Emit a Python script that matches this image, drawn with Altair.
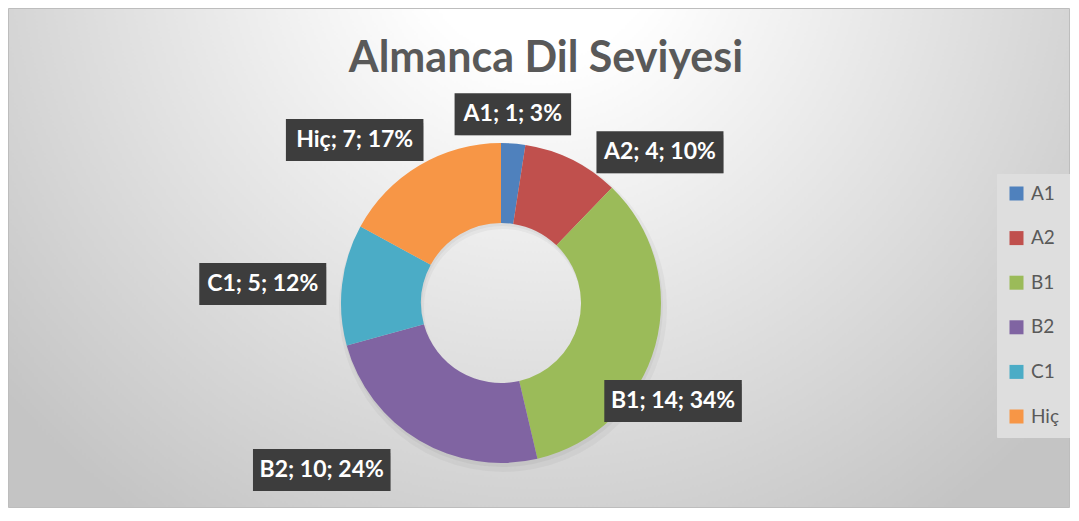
import altair as alt
import pandas as pd
import math

# ---- data ----
levels = ["A1", "A2", "B1", "B2", "C1", "Hiç"]
counts = [1, 4, 14, 10, 5, 7]
percents = [3, 10, 34, 24, 12, 17]          # as printed on the chart
colors = ["#4F81BD", "#C0504D", "#9BBB59", "#8064A2", "#4BACC6", "#F79646"]
title_text = "Almanca Dil Seviyesi"

# ---- label layout (Excel manual label placement) ----
label_radius = [189, 219, 198, 245, 239, 219]
label_angle_shift = [-0.8, 20.2, 14.3, 16.3, -2.0, -11.2]

W, H = 1062, 500
PT = 75                      # top padding (title area)
PH = H - PT
CX, CY = 493, 220            # donut centre in plot coordinates
R_OUT, R_IN = 160, 80
FONT = "Lato"

df = pd.DataFrame({
    "level": levels,
    "count": counts,
    "pct": percents,
    "order": list(range(len(levels))),
    "lr": label_radius,
    "shift": label_angle_shift,
})
df["label"] = [f"{l}; {c}; {p}%" for l, c, p in zip(levels, counts, percents)]

bg_df = pd.DataFrame({"k": [0]})
title_df = pd.DataFrame({"t": [title_text]})

gradient = {
    "gradient": "radial",
    "x1": 0.5, "y1": 0.2, "r1": 0,
    "x2": 0.5, "y2": 0.2, "r2": 0.66,
    "stops": [
        {"offset": 0, "color": "#ffffff"},
        {"offset": 0.17, "color": "#ffffff"},
        {"offset": 1, "color": "#c4c4c4"},
    ],
}

background = alt.Chart(bg_df).mark_rect(
    color=gradient, stroke="#bdbdbd", strokeWidth=1
).encode(
    x=alt.value(0.5), x2=alt.value(W - 0.5),
    y=alt.value(-PT + 0.5), y2=alt.value(PH - 0.5),
)

title = alt.Chart(title_df).mark_text(
    font=FONT, fontSize=43, fontWeight="bold", color="#595959",
    align="center", baseline="alphabetic",
).encode(text="t:N", x=alt.value(538), y=alt.value(72 - 8 - PT))

shadow1 = alt.Chart(bg_df).mark_arc(
    theta=0, theta2=2 * math.pi, innerRadius=R_IN - 1, outerRadius=R_OUT + 4,
    color="#000000", opacity=0.035,
).encode(x=alt.value(CX + 2), y=alt.value(CY + 5))
shadow2 = alt.Chart(bg_df).mark_arc(
    theta=0, theta2=2 * math.pi, innerRadius=R_IN, outerRadius=R_OUT + 1,
    color="#000000", opacity=0.04,
).encode(x=alt.value(CX + 1), y=alt.value(CY + 3))

arcs = alt.Chart(df).mark_arc(innerRadius=R_IN, outerRadius=R_OUT).encode(
    theta=alt.Theta("count:Q", stack=True),
    order=alt.Order("order:Q", sort="ascending"),
    color=alt.Color(
        "level:N",
        scale=alt.Scale(domain=levels, range=colors),
        sort=levels,
        legend=alt.Legend(
            title=None, orient="none", legendX=989, legendY=91,
            symbolType="square", symbolSize=196, symbolStrokeWidth=0,
            labelFont=FONT, labelFontSize=19, labelColor="#595959",
            labelOffset=5, rowPadding=24.6, padding=10,
            fillColor="#dedede", strokeColor="#dedede",
        ),
    ),
    x=alt.value(CX), y=alt.value(CY),
)

lab = alt.Chart(df).transform_joinaggregate(
    total="sum(count)"
).transform_window(
    cum="sum(count)", sort=[alt.SortField("order")], frame=[None, 0]
).transform_calculate(
    mid="(datum.cum - datum.count/2)/datum.total*2*PI + datum.shift*PI/180",
).transform_calculate(
    lx=f"{CX} + datum.lr*sin(datum.mid)",
    ly=f"{CY} - datum.lr*cos(datum.mid)",
    hw="(length(datum.label)*10.5 + 22)/2",
).transform_calculate(
    bx1="datum.lx - datum.hw", bx2="datum.lx + datum.hw",
    by1="datum.ly - 21", by2="datum.ly + 21",
)

box_sh2 = lab.mark_rect(color="#000000", opacity=0.10).encode(
    x=alt.X("bx1:Q", scale=None, axis=None), x2="bx2:Q",
    y=alt.Y("by1:Q", scale=None, axis=None), y2="by2:Q",
    xOffset=alt.value(6), yOffset=alt.value(7),
)
box_sh1 = lab.mark_rect(color="#000000", opacity=0.22).encode(
    x=alt.X("bx1:Q", scale=None, axis=None), x2="bx2:Q",
    y=alt.Y("by1:Q", scale=None, axis=None), y2="by2:Q",
    xOffset=alt.value(3), yOffset=alt.value(4),
)
box = lab.mark_rect(color="#3d3d3d").encode(
    x=alt.X("bx1:Q", scale=None, axis=None), x2="bx2:Q",
    y=alt.Y("by1:Q", scale=None, axis=None), y2="by2:Q",
)
text = lab.mark_text(
    font=FONT, fontSize=23, fontWeight="bold", color="#ffffff",
    align="center", baseline="middle",
).encode(
    x=alt.X("lx:Q", scale=None, axis=None),
    y=alt.Y("ly:Q", scale=None, axis=None),
    text="label:N",
)

chart = alt.layer(
    background, title, shadow1, shadow2, arcs, box_sh2, box_sh1, box, text
).properties(
    width=W, height=PH,
    padding={"left": 0, "right": 0, "top": PT, "bottom": 0},
    autosize=alt.AutoSizeParams(type="none"),
).configure(background="white").configure_view(stroke=None)

chart.save("out.html", embed_options={"renderer": "svg", "actions": False})
